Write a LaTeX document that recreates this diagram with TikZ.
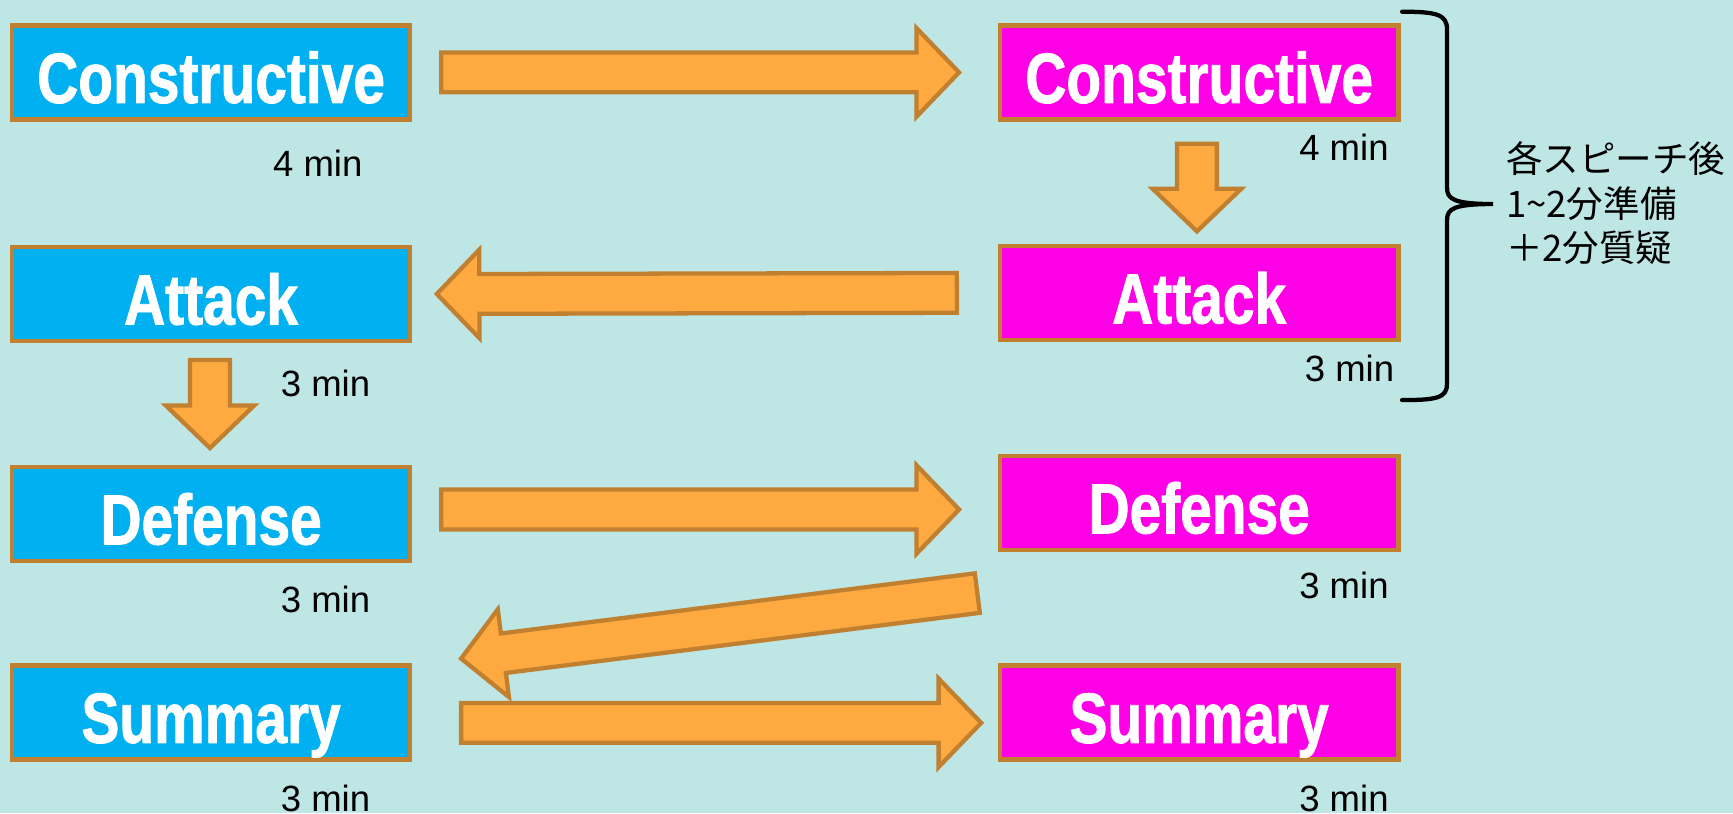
\documentclass[tikz,border=0pt]{standalone}
\usepackage{fontspec}
\usepackage{xcolor}
\usepackage{tikz}
\setmainfont{Liberation Sans}
\newfontfamily\boxfont[FakeStretch=0.8,FakeBold=1.2]{Liberation Sans}
\newfontfamily\jpfont{Noto Sans CJK JP}
\usetikzlibrary{calc}
\definecolor{bgcol}{RGB}{190,230,229}
\definecolor{bluebox}{RGB}{0,176,240}
\definecolor{pinkbox}{RGB}{255,0,230}
\definecolor{brdcol}{RGB}{192,128,48}
\definecolor{arrcol}{RGB}{255,170,64}
\def\aw{0.18cm}
\def\ah{0.40cm}
\def\ak{0.385cm}
\tikzstyle{speech}=[draw=brdcol,line width=1.2pt,minimum width=3.6cm,minimum height=0.85cm,inner sep=0pt,text=white,font=\boxfont\bfseries\fontsize{18.3}{20}\selectfont,text height=15.7pt,text depth=0pt]
\tikzstyle{lside}=[speech,fill=bluebox]
\tikzstyle{rside}=[speech,fill=pinkbox]
\tikzstyle{mins}=[font=\fontsize{9.4}{11}\selectfont,inner sep=0pt]
\tikzstyle{note}=[font=\jpfont\fontsize{9.4}{11.4}\selectfont,align=left,inner sep=0pt]
\tikzstyle{brace}=[line width=1.1pt,line cap=round]
\tikzset{
  barrow/.style={draw=brdcol,fill=arrcol,line width=1.1pt,
    to path={let \p1=(\tikztostart),\p2=(\tikztotarget),
      \n1={atan2(\y2-\y1,\x2-\x1)},\n2={veclen(\x2-\x1,\y2-\y1)} in
      {[shift={(\p1)},rotate=\n1]
        (0pt,-\aw) -- (\n2-\ak,-\aw) -- (\n2-\ak,-\ah) -- (\n2,0pt)
        -- (\n2-\ak,\ah) -- (\n2-\ak,\aw) -- (0pt,\aw) -- cycle}}}
}

\begin{document}
\begin{tikzpicture}[x=0.01cm,y=-0.01cm]
    \path[use as bounding box,fill=bgcol] (0,0) rectangle (1568,736);
    \node[lside] (cL) at (191,65.5) {Constructive};
    \node[lside] (aL) at (191,266) {Attack};
    \node[lside] (dL) at (191,465) {Defense};
    \node[lside] (sL) at (191,644.5) {Summary};
    \node[rside] (cR) at (1085,65.5) {Constructive};
    \node[rside] (aR) at (1085,265) {Attack};
    \node[rside] (dR) at (1085,455) {Defense};
    \node[rside] (sR) at (1085,644.5) {Summary};
    \node[mins] (tcL) at (287.5,148) {4 min};
    \node[mins] (tcR) at (1216,133) {4 min};
    \node[mins] (taL) at (294.5,347) {3 min};
    \node[mins] (taR) at (1221,333) {3 min};
    \node[mins] (tdL) at (294.5,542) {3 min};
    \node[mins] (tdR) at (1216,530) {3 min};
    \node[mins] (tsL) at (294.5,722) {3 min};
    \node[mins] (tsR) at (1216,722) {3 min};
    \draw[barrow] ($(cL.east)+(26,0)$) to ($(cR.west)+(-35,0)$);
    \draw[barrow] ($(cR.south)+(-2,20)$) to ($(aR.north)+(-2,-11)$);
    \draw[barrow] ($(aR.west)+(-37,0)$) to ($(aL.east)+(22,0)$);
    \draw[barrow] ($(aL.south)+(-1,15)$) to ($(dL.north)+(-1,-15)$);
    \draw[barrow] ($(dL.east)+(26,-4)$) to ($(dR.west)+(-35,6)$);
    \draw[barrow] ($(dR.south west)+(-18.5,37)$) to ($(sL.north east)+(44,-4)$);
    \draw[barrow] ($(sL.east)+(44,9.5)$) to ($(sR.west)+(-15,9.5)$);
    \draw[brace] (1268.6,10.6) .. controls (1300,10.6) and (1309.3,13) .. (1309.3,27)
      -- (1309.3,170) .. controls (1309.3,180) and (1315,184.6) .. (1351,184.6)
      .. controls (1315,184.6) and (1309.3,189) .. (1309.3,199)
      -- (1309.3,347) .. controls (1309.3,360) and (1300,362) .. (1268.6,362);
    \node[note,anchor=west] (prep) at (1362,184) {各スピーチ後\\1\textasciitilde2分準備\\＋2分質疑};
\end{tikzpicture}
\end{document}
